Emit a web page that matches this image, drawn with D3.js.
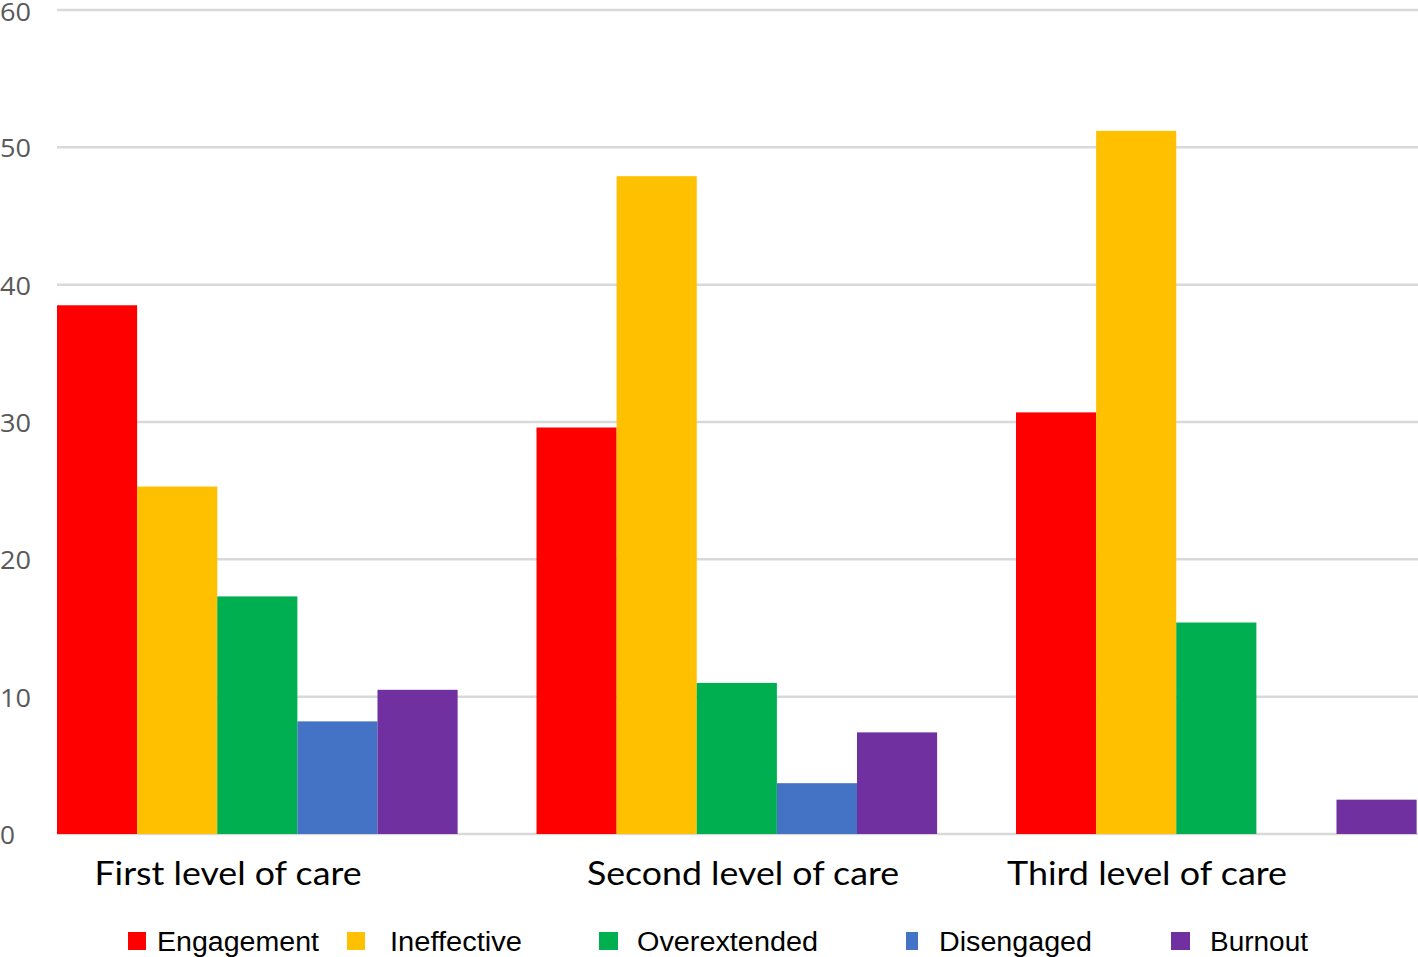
<!DOCTYPE html>
<html>
<head>
<meta charset="utf-8">
<script src="https://cdn.jsdelivr.net/npm/d3@7"></script>
<style>
  html, body { margin: 0; padding: 0; background: #fff; }
  svg { display: block; }
</style>
</head>
<body>
<svg id="chart" width="1418" height="957"></svg>
<script>
// ---- data ----
const groups = ["First level of care", "Second level of care", "Third level of care"];
const seriesNames = ["Engagement", "Ineffective", "Overextended", "Disengaged", "Burnout"];
const engagement   = [38.5, 29.6, 30.7];
const ineffective  = [25.3, 47.9, 51.2];
const overextended = [17.3, 11.0, 15.4];
const disengaged   = [8.2, 3.7, 0];
const burnout      = [10.5, 7.4, 2.5];
const yTicks = [0, 10, 20, 30, 40, 50, 60];

// ---- styling / layout ----
const colors = ["#FF0000", "#FFC000", "#00B050", "#4472C4", "#7030A0"];
const seriesValues = [engagement, ineffective, overextended, disengaged, burnout];

const svg = d3.select("#chart");
const plotLeft = 57, plotTop = 10, plotBottom = 834, plotRight = 1418;

const y = d3.scaleLinear().domain([0, 60]).range([plotBottom, plotTop]);
const x0 = d3.scaleBand().domain(groups).range([plotLeft, plotLeft + 3 * 479.5]).padding(0);
const x1 = d3.scaleBand().domain(seriesNames).range([0, x0.bandwidth() * 0.8355]).padding(0);

// gridlines
svg.append("g").selectAll("line").data(yTicks).join("line")
  .attr("x1", plotLeft).attr("x2", plotRight)
  .attr("y1", d => y(d)).attr("y2", d => y(d))
  .attr("stroke", "#d9d9d9").attr("stroke-width", 2.5);

// y tick labels
svg.append("g").selectAll("text").data(yTicks).join("text")
  .attr("x", 0).attr("y", d => Math.max(y(d) + 10, 21))
  .attr("font-family", "'Open Sans', sans-serif")
  .attr("font-size", 26)
  .attr("font-weight", 500)
  .attr("fill", "#595959")
  .attr("textLength", d => d === 0 ? 15 : 31)
  .attr("lengthAdjust", "spacingAndGlyphs")
  .text(d => d);

// bars
const rows = groups.map((g, i) => ({ g, vals: seriesNames.map((s, j) => ({ s, v: seriesValues[j][i], c: colors[j] })) }));
const gg = svg.append("g").selectAll("g").data(rows).join("g")
  .attr("transform", d => `translate(${x0(d.g)},0)`);
gg.selectAll("rect").data(d => d.vals).join("rect")
  .attr("x", d => x1(d.s))
  .attr("width", x1.bandwidth())
  .attr("y", d => y(d.v))
  .attr("height", d => plotBottom - y(d.v))
  .attr("fill", d => d.c);

// group labels
const labelCenters = [228, 743, 1147];
const labelWidths = [267, 312, 280];
svg.append("g").selectAll("text").data(groups).join("text")
  .attr("x", (d, i) => labelCenters[i])
  .attr("y", 885)
  .attr("text-anchor", "middle")
  .attr("font-family", "Lato, 'Open Sans', sans-serif")
  .attr("font-size", 32)
  .attr("fill", "#000")
  .attr("textLength", (d, i) => labelWidths[i])
  .attr("lengthAdjust", "spacingAndGlyphs")
  .text(d => d);

// legend
const legSquareX = [128, 347, 599, 906, 1171];
const legSquareW = [18, 18, 19, 12, 19];
const legTextX = [157, 390, 637, 939, 1210];
const legTextW = [162, 132, 181, 153, 98];
const leg = svg.append("g");
seriesNames.forEach((s, i) => {
  leg.append("rect")
    .attr("x", legSquareX[i]).attr("y", 932)
    .attr("width", legSquareW[i]).attr("height", 18)
    .attr("fill", colors[i]);
  leg.append("text")
    .attr("x", legTextX[i]).attr("y", 951)
    .attr("font-family", "'Liberation Sans', Arial, sans-serif")
    .attr("font-size", 27)
    .attr("fill", "#000")
    .attr("textLength", legTextW[i])
    .attr("lengthAdjust", "spacingAndGlyphs")
    .text(s);
});
</script>
</body>
</html>
